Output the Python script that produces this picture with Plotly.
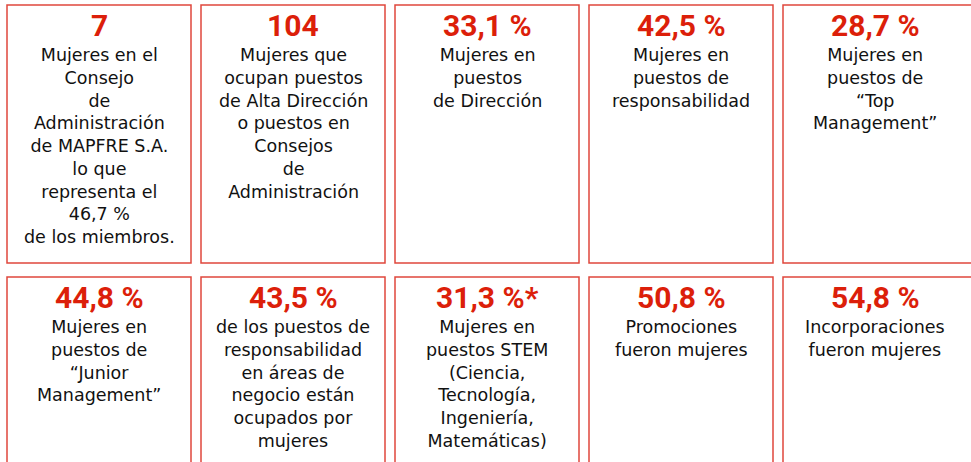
import plotly.graph_objects as go

# Card values and descriptions (row-major, 5 cards per row)
valores = ["7", "104", "33,1 %", "42,5 %", "28,7 %",
           "44,8 %", "43,5 %", "31,3 %*", "50,8 %", "54,8 %"]

descripciones = [
    "Mujeres en el<br>Consejo<br>de<br>Administración<br>de MAPFRE S.A.<br>lo que<br>representa el<br>46,7 %<br>de los miembros.",
    "Mujeres que<br>ocupan puestos<br>de Alta Dirección<br>o puestos en<br>Consejos<br>de<br>Administración",
    "Mujeres en<br>puestos<br>de Dirección",
    "Mujeres en<br>puestos de<br>responsabilidad",
    "Mujeres en<br>puestos de<br>“Top<br>Management”",
    "Mujeres en<br>puestos de<br>“Junior<br>Management”",
    "de los puestos de<br>responsabilidad<br>en áreas de<br>negocio están<br>ocupados por<br>mujeres",
    "Mujeres en<br>puestos STEM<br>(Ciencia,<br>Tecnología,<br>Ingeniería,<br>Matemáticas)",
    "Promociones<br>fueron mujeres",
    "Incorporaciones<br>fueron mujeres",
]

ROJO = "#dc1f0a"
BORDE = "#e0473c"
W, H = 971, 462

# grid geometry in pixels
COLS = 5
X0, Y0 = 7, 5
CARD_W, CARD_H = 184, 258
PASO_X, PASO_Y = 194, 272

fig = go.Figure()

for i, (valor, texto) in enumerate(zip(valores, descripciones)):
    fila, col = divmod(i, COLS)
    x0 = X0 + col * PASO_X
    y0 = Y0 + fila * PASO_Y
    xc = x0 + CARD_W / 2
    # last column runs off the right edge of the view (cropped, as in the original)
    x1 = x0 + CARD_W if col < COLS - 1 else W + 4

    fig.add_shape(type="rect", x0=x0, x1=x1, y0=y0, y1=y0 + CARD_H,
                  line=dict(color=BORDE, width=1.5), fillcolor="white", layer="below")

    fig.add_annotation(x=xc, y=y0 + 20, text=valor, showarrow=False,
                       xanchor="center", yanchor="middle",
                       font=dict(family="Roboto", size=30, color=ROJO, weight=700))

    fig.add_annotation(x=xc, y=y0 + 38, text=texto, showarrow=False,
                       xanchor="center", yanchor="top", align="center",
                       font=dict(family="DejaVu Sans", size=17.5, color="#111111"))

fig.update_layout(
    width=W, height=H,
    margin=dict(l=0, r=0, t=0, b=0),
    paper_bgcolor="white", plot_bgcolor="white",
    xaxis=dict(range=[0, W], visible=False, fixedrange=True),
    yaxis=dict(range=[H, 0], visible=False, fixedrange=True),
    showlegend=False,
)

# drop the default page margin so the figure sits at the window's corner
fig.write_html("out.html", config={"displayModeBar": False},
               post_script="document.body.style.margin='0';")
